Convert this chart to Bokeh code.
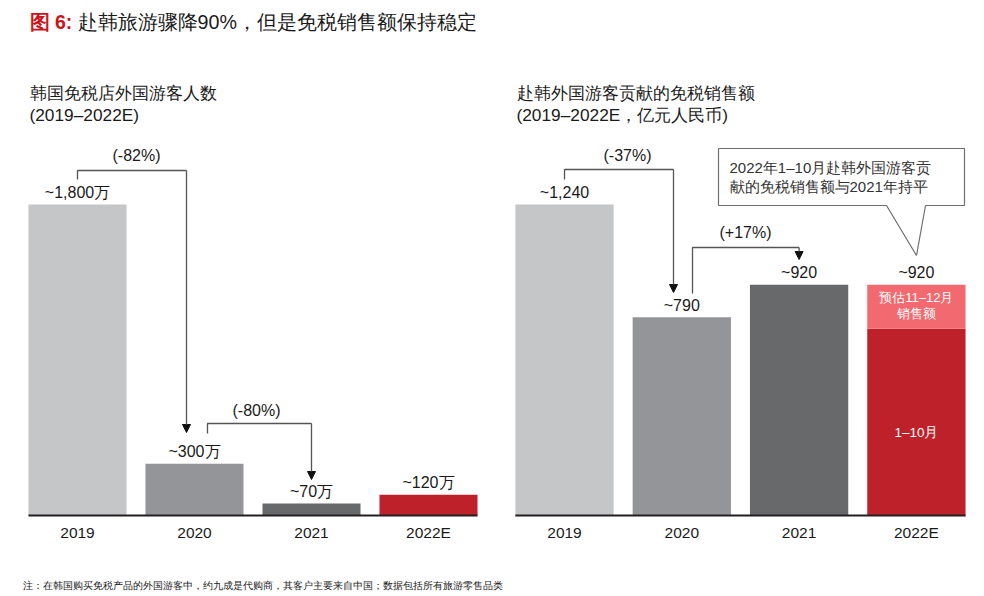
from bokeh.plotting import figure
from bokeh.models import Range1d, Arrow, NormalHead
from bokeh.core.properties import value
from bokeh.embed import file_html
from bokeh.resources import INLINE

# ---------------- data ----------------
years = ["2019", "2020", "2021", "2022E"]
visitors = [1800, 300, 70, 120]              # 万人
visitor_labels = ["~1,800万", "~300万", "~70万", "~120万"]
visitor_changes = ["(-82%)", "(-80%)"]

sales_total = [1240, 790, 920, 920]          # 亿元人民币
sales_labels = ["~1,240", "~790", "~920", "~920"]
sales_2022_jan_oct = 745
sales_2022_nov_dec = 175
sales_changes = ["(-37%)", "(+17%)"]

title_prefix = "图 6:"
title_text = "赴韩旅游骤降90%，但是免税销售额保持稳定"
left_sub = ["韩国免税店外国游客人数", "(2019–2022E)"]
right_sub = ["赴韩外国游客贡献的免税销售额", "(2019–2022E，亿元人民币)"]
callout = ["2022年1–10月赴韩外国游客贡", "献的免税销售额与2021年持平"]
seg_labels = ["预估11–12月", "销售额", "1–10月"]
footnote = "注：在韩国购买免税产品的外国游客中，约九成是代购商，其客户主要来自中国；数据包括所有旅游零售品类"

# ---------------- style ----------------
FONT = "Liberation Sans"
BAR_COLORS = ["#c5c6c8", "#939598", "#68696b", "#be2129"]
PINK = "#f26a70"
TITLE_RED = "#d0121b"
TXT = "#1a1a1a"
BRK = "#555555"

W, H = 984, 594
BASE_IMG = 515
TOP_IMG = 204
BAR_W = 0.838


def ranges(center0_img, spacing, vmax):
    k = (BASE_IMG - TOP_IMG) / vmax
    xs = -center0_img / spacing
    xe = xs + W / spacing
    b = H - BASE_IMG
    xr = Range1d(xs, xe)
    yr = Range1d(-b / k, (H - b) / k)

    def X(ix):
        return (ix - center0_img) / spacing

    def Y(iy):
        return (BASE_IMG - iy) / k
    return xr, yr, X, Y


lxr, lyr, XL, YL = ranges(77, 117.0, visitors[0])
rxr, ryr, XR, YR = ranges(564, 117.3, sales_total[0])

p = figure(width=W, height=H, x_range=lxr, y_range=lyr,
           x_axis_location=None, y_axis_location=None, min_border=0,
           toolbar_location=None, output_backend="svg", outline_line_color=None,
           title=None)
p.grid.visible = False
p.extra_x_ranges = {"rx": rxr}
p.extra_y_ranges = {"ry": ryr}

L = dict(x_range_name="default", y_range_name="default")
R = dict(x_range_name="rx", y_range_name="ry")


def txt(x, y, t, size, color=TXT, align="left", style="normal", rn=L):
    p.text(x=[x], y=[y], text=[t], text_font=value(FONT),
           text_font_size=value(f"{size}px"), text_color=color,
           text_align=align, text_baseline="middle", text_font_style=style, **rn)


def bracket(x0, y0, y1, x1, y2, rn):
    p.line([x0, x0, x1], [y0, y1, y1], line_color=BRK, line_width=1.3, **rn)
    p.add_layout(Arrow(end=NormalHead(size=8, fill_color="#111111", line_color="#111111"),
                       x_start=x1, y_start=y1, x_end=x1, y_end=y2,
                       line_color=BRK, line_width=1.3, **rn))


idx = list(range(len(years)))

# ---------------- left panel ----------------
p.vbar(x=idx, top=visitors, width=BAR_W, color=BAR_COLORS, line_color=None, **L)
p.segment(x0=[-BAR_W / 2], y0=[0], x1=[idx[-1] + BAR_W / 2], y1=[0],
          line_color="#231f20", line_width=2, **L)
p.text(x=idx, y=visitors, text=visitor_labels, y_offset=-12, text_font=value(FONT),
       text_font_size=value("16px"), text_color=TXT, text_align="center",
       text_baseline="middle", **L)
p.text(x=idx, y=[YL(532)] * 4, text=years, text_font=value(FONT),
       text_font_size=value("15.5px"), text_color=TXT, text_align="center",
       text_baseline="middle", **L)
bracket(0, YL(179), YL(170), XL(186), YL(432), L)
txt(XL(136), YL(155), visitor_changes[0], 16, align="center")
bracket(XL(207), YL(433), YL(423), 2, YL(479), L)
txt(XL(256), YL(410), visitor_changes[1], 16, align="center")

txt(XL(29), YL(21.5), title_prefix, 19.5, color=TITLE_RED, style="bold")
txt(XL(77), YL(21.5), title_text, 19.7)
txt(XL(29), YL(92), left_sub[0], 17.3)
txt(XL(29), YL(114), left_sub[1], 17.3)
txt(XL(22), YL(585), footnote, 9.8)

# ---------------- right panel ----------------
p.vbar(x=idx[:3], top=sales_total[:3], width=BAR_W, color=BAR_COLORS[:3],
       line_color=None, **R)
p.vbar(x=[3], bottom=[0], top=[sales_2022_jan_oct], width=BAR_W, color=BAR_COLORS[3],
       line_color=None, **R)
p.vbar(x=[3], bottom=[sales_2022_jan_oct],
       top=[sales_2022_jan_oct + sales_2022_nov_dec], width=BAR_W, color=PINK,
       line_color=None, **R)
p.segment(x0=[-BAR_W / 2], y0=[0], x1=[idx[-1] + BAR_W / 2], y1=[0],
          line_color="#231f20", line_width=2, **R)
p.text(x=idx, y=sales_total, text=sales_labels, y_offset=-12, text_font=value(FONT),
       text_font_size=value("16px"), text_color=TXT, text_align="center",
       text_baseline="middle", **R)
p.text(x=idx, y=[YR(532)] * 4, text=years, text_font=value(FONT),
       text_font_size=value("15.5px"), text_color=TXT, text_align="center",
       text_baseline="middle", **R)
bracket(0, YR(179), YR(169), XR(673), YR(292), R)
txt(XR(627), YR(155), sales_changes[0], 16, align="center", rn=R)
bracket(XR(692), YR(293), YR(247), 2, YR(259), R)
txt(XR(745), YR(232), sales_changes[1], 16, align="center", rn=R)

# segment labels inside the 2022E bar
txt(3, YR(297), seg_labels[0], 13, color="white", align="center", rn=R)
txt(3, YR(313), seg_labels[1], 13, color="white", align="center", rn=R)
txt(3, YR(432), seg_labels[2], 13.5, color="white", align="center", rn=R)

# callout
cx = [718, 964, 964, 925, 916, 886, 718]
cy = [148, 148, 205, 205, 255, 205, 205]
p.patch([XR(v) for v in cx], [YR(v) for v in cy], fill_color="white",
        line_color="#6d6e70", line_width=1.2, **R)
txt(XR(729), YR(167), callout[0], 15, color="#333333", rn=R)
txt(XR(729), YR(186), callout[1], 15, color="#333333", rn=R)

txt(XR(516), YR(92), right_sub[0], 17.3, rn=R)
txt(XR(516), YR(114), right_sub[1], 17.3, rn=R)

open("out.html", "w").write(file_html(p, INLINE))
